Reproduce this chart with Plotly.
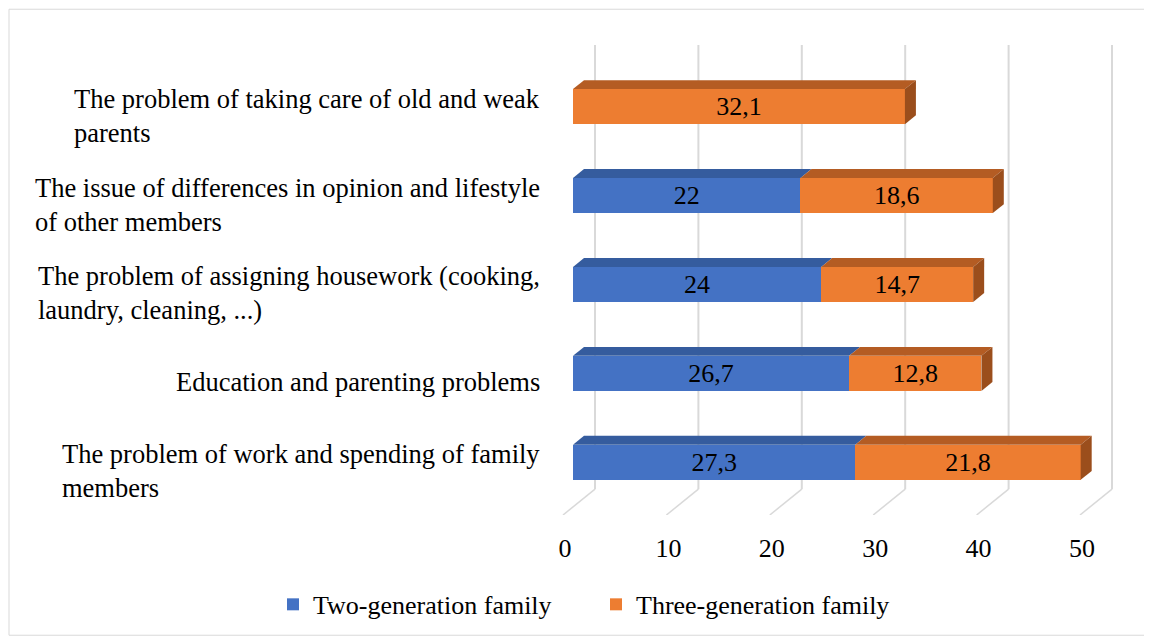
import plotly.graph_objects as go

# ---------------- data ----------------
categories = [
    "The problem of work and spending of family members",
    "Education and parenting problems",
    "The problem of assigning housework (cooking, laundry, cleaning, ...)",
    "The issue of differences in opinion and lifestyle of other members",
    "The problem of taking care of old and weak parents",
]
category_labels = [
    "The problem of work and spending of family<br>members",
    "Education and parenting problems",
    "The problem of assigning housework (cooking,<br>laundry, cleaning, ...)",
    "The issue of differences in opinion and lifestyle<br>of other members",
    "The problem of taking care of old and weak<br>parents",
]
two_gen = [27.3, 26.7, 24, 22, None]
three_gen = [21.8, 12.8, 14.7, 18.6, 32.1]
tick_values = [0, 10, 20, 30, 40, 50]
series_names = ["Two-generation family", "Three-generation family"]

# ---------------- styling / layout constants ----------------
FONT = "Liberation Serif"
FS = 26
BLUE, ORANGE = "#4472C4", "#ED7D31"
BLUE_TOP, ORANGE_TOP, ORANGE_SIDE, BLUE_SIDE = "#355C9E", "#B45C23", "#9B4E1C", "#2F5290"
GRID = "#D9D9D9"

PAGE_OFF = 8              # html body margin
W, H = 1152 - PAGE_OFF, 640 - PAGE_OFF
L, R = 548, 1125          # plot area in page px
T, B = 45, 518
S = 10.34                 # px per unit on x
PXY = 89.5                # px per category on y
X0_BAR, X0_GRID, X0_LAB = 573, 595, 565
FLOOR_BACK = 492
DX_PX, DY_PX = 11, 9      # 3D depth of bars
BAR_W = 35.3 / PXY

def xrange_for(x0px):
    start = -(x0px - L) / S
    return [start, start + (R - L) / S]

def px_to_paper_x(px):
    return (px - L) / (R - L)

def px_to_paper_y(py):
    return (B - py) / (B - T)

y_low = -(B - 465) / PXY
y_range = [y_low, y_low + (B - T) / PXY]

fig = go.Figure()
for k, (vals, name, col) in enumerate([(two_gen, series_names[0], BLUE),
                                       (three_gen, series_names[1], ORANGE)]):
    fig.add_trace(go.Bar(
        y=categories, x=vals, orientation="h", name=name,
        legend="legend" if k == 0 else "legend2",
        marker=dict(color=col, line=dict(width=0)), width=BAR_W,
        texttemplate="%{x}", textposition="inside", insidetextanchor="middle",
        textangle=0, constraintext="none",
        textfont=dict(family=FONT, size=FS, color="black"),
    ))

shapes = []
dx = DX_PX / S
dy = DY_PX / PXY
for i in range(len(categories)):
    a = two_gen[i] or 0
    b = three_gen[i] or 0
    top = i + BAR_W / 2
    segs = []
    if a:
        segs.append((0, a, BLUE_TOP))
    if b:
        segs.append((a, a + b, ORANGE_TOP))
    for (s0, s1, col) in segs:
        shapes.append(dict(
            type="path", xref="x", yref="y", layer="above",
            path=f"M {s0},{top} L {s0+dx},{top+dy} L {s1+dx},{top+dy} L {s1},{top} Z",
            fillcolor=col, line=dict(width=0)))
    end = a + b
    side_col = ORANGE_SIDE if b else BLUE_SIDE
    bot = i - BAR_W / 2
    shapes.append(dict(
        type="path", xref="x", yref="y", layer="above",
        path=f"M {end},{bot} L {end},{top} L {end+dx},{top+dy} L {end+dx},{bot+dy} Z",
        fillcolor=side_col, line=dict(width=0)))

# back-wall gridlines and floor diagonals
depth_units = (X0_GRID - (X0_LAB - 2)) / S
y_floor_back = y_range[0] + (B - FLOOR_BACK) / PXY
for t in tick_values:
    shapes.append(dict(
        type="line", xref="x2", yref="y", layer="below",
        x0=t, y0=y_floor_back, x1=t, y1=y_range[1],
        line=dict(color=GRID, width=2)))
    shapes.append(dict(
        type="line", xref="x2", yref="y", layer="below",
        x0=t - depth_units, y0=y_range[0], x1=t, y1=y_floor_back,
        line=dict(color=GRID, width=1.5)))

# chart border
shapes.append(dict(type="rect", xref="paper", yref="paper",
                   x0=px_to_paper_x(9), x1=px_to_paper_x(1147),
                   y0=px_to_paper_y(639), y1=px_to_paper_y(9),
                   line=dict(color="#D9D9D9", width=1), fillcolor="rgba(0,0,0,0)"))

annotations = []
for cat, lab in zip(categories, category_labels):
    annotations.append(dict(
        x=0, xref="paper", y=cat, yref="y", xanchor="right", yanchor="middle",
        xshift=-6, yshift=-9, text=lab, align="left", showarrow=False,
        font=dict(family=FONT, size=26.5, color="black")))

legend_common = dict(orientation="h", xanchor="left", yanchor="middle",
                     y=px_to_paper_y(608),
                     font=dict(family=FONT, size=FS, color="black"),
                     itemwidth=30, bgcolor="rgba(0,0,0,0)")

fig.update_layout(
    width=W, height=H,
    margin=dict(l=L - PAGE_OFF, r=1152 - R, t=T - PAGE_OFF, b=640 - B, pad=0),
    paper_bgcolor="white", plot_bgcolor="rgba(0,0,0,0)",
    barmode="stack",
    separators=",.",
    font=dict(family=FONT, size=FS, color="black"),
    shapes=shapes, annotations=annotations,
    showlegend=True,
    legend=dict(x=px_to_paper_x(273), **legend_common),
    legend2=dict(x=px_to_paper_x(596), **legend_common),
    xaxis=dict(range=xrange_for(X0_BAR), showgrid=False, zeroline=False,
               showticklabels=False, showline=False, fixedrange=True),
    xaxis2=dict(range=xrange_for(X0_GRID), overlaying="x", anchor="y",
                showgrid=False, showticklabels=False, zeroline=False,
                showline=False, side="bottom"),
    xaxis3=dict(range=xrange_for(X0_LAB), overlaying="x", anchor="y",
                showgrid=False, zeroline=False, showline=False,
                tickvals=tick_values, ticktext=[str(v) for v in tick_values],
                ticks="outside", ticklen=10, tickcolor="rgba(0,0,0,0)",
                tickfont=dict(family=FONT, size=FS, color="black"), side="bottom"),
    yaxis=dict(range=y_range, showgrid=False, zeroline=False, showline=False,
               showticklabels=False, type="category", categoryorder="array",
               categoryarray=categories),
)
fig.add_trace(go.Scatter(x=[None], y=[None], xaxis="x2", yaxis="y", showlegend=False, hoverinfo="skip"))
fig.add_trace(go.Scatter(x=[None], y=[None], xaxis="x3", yaxis="y", showlegend=False, hoverinfo="skip"))

fig.write_html("out.html")
